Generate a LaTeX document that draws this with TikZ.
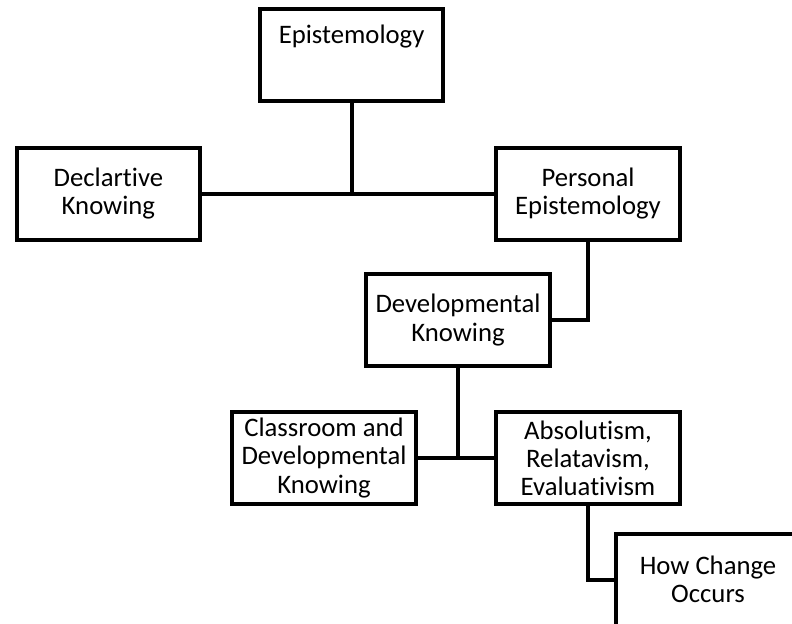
\documentclass[tikz,border=0pt]{standalone}
\usepackage{fontspec}
\setmainfont{Carlito}[Ligatures={NoCommon}]
\usepackage{tikz}
\usetikzlibrary{positioning}
\usepackage{xcolor}
\definecolor{mapline}{RGB}{0,0,0}
\tikzstyle{topic} = [rectangle, minimum width=4.58cm, minimum height=2.3cm, align=center, text centered, draw=mapline, fill=white, line width=0.1cm, font=\fontsize{19}{20}\selectfont]
\tikzstyle{link} = [line width=0.1cm, color=mapline]

\begin{document}
\begin{tikzpicture}
\clip (0,0) rectangle (19.8,-15.575);
\node[topic, text height=0.5cm, text depth=1.1cm] (epi) at (8.79,-1.375) {Epistemology};
\node[topic] (decl) at (2.71,-4.84) {Declartive\\Knowing};
\node[topic] (pers) at (14.7,-4.84) {Personal\\Epistemology};
\node[topic] (dev) at (11.45,-8.0) {Developmental\\Knowing};
\node[topic] (class) at (8.1,-11.45) {Classroom and\\Developmental\\Knowing};
\node[topic] (abs) at (14.7,-11.45) {Absolutism,\\Relatavism,\\Evaluativism};
\node[topic] (how) at (17.7,-14.49) {How Change\\Occurs};

\draw[link] (decl.east) -- (pers.west);
\draw[link] (epi.south) -- (epi.south |- decl.east);
\draw[link] (pers.south) |- (dev.east);
\draw[link] (class.east) -- (abs.west);
\draw[link] (dev.south) -- (dev.south |- class.east);
\draw[link] (abs.south) |- (how.west);
\end{tikzpicture}
\end{document}
